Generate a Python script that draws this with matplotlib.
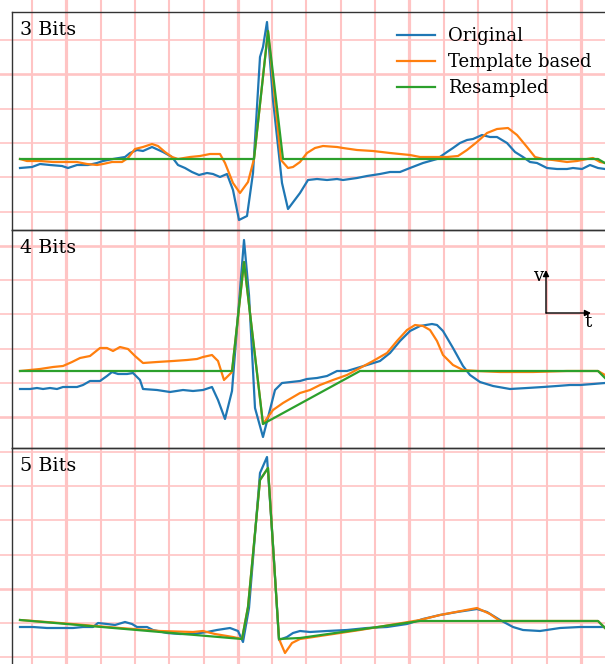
import numpy as np
import matplotlib.pyplot as plt

plt.rcParams['font.family'] = 'serif'

# time in ms, amplitude in mV
# --- 3 Bits ---
orig3_t = [0, 12, 20, 30, 42, 48, 57, 68, 77, 83, 93, 105, 110, 117, 123, 132, 143, 152, 158, 165,
           172, 179, 187, 193, 200, 207, 213, 219, 227, 233, 240, 243, 247, 253, 262, 268, 280, 288,
           297, 307, 317, 323, 337, 347, 360, 370, 380, 390, 403, 417, 427, 433, 440, 447, 453, 462,
           470, 477, 487, 495, 503, 510, 517, 527, 537, 547, 553, 562, 570, 578, 585]
orig3_v = [-0.09, -0.08, -0.05, -0.06, -0.07, -0.09, -0.06, -0.06, -0.04, -0.02, 0.00, 0.02, 0.06,
           0.09, 0.08, 0.12, 0.07, 0.02, -0.06, -0.09, -0.13, -0.16, -0.14, -0.15, -0.18, -0.15,
           -0.31, -0.61, -0.57, -0.14, 1.02, 1.12, 1.37, 0.59, -0.24, -0.50, -0.34, -0.21, -0.20,
           -0.21, -0.20, -0.21, -0.19, -0.17, -0.15, -0.13, -0.13, -0.09, -0.04, 0.00, 0.07, 0.11,
           0.16, 0.19, 0.20, 0.24, 0.22, 0.22, 0.16, 0.07, 0.02, -0.03, -0.04, -0.09, -0.10, -0.10,
           -0.09, -0.10, -0.06, -0.09, -0.10]
tmpl3_t = [0, 7, 20, 33, 47, 57, 67, 77, 83, 92, 102, 108, 115, 123, 132, 138, 145, 152, 158, 170,
           180, 190, 200, 205, 213, 220, 228, 234, 248, 261, 268, 273, 280, 287, 295, 303, 317, 323,
           337, 353, 370, 390, 400, 413, 427, 438, 447, 457, 467, 477, 488, 497, 507, 515, 523, 533,
           547, 557, 567, 573, 580, 585]
tmpl3_v = [0.00, -0.02, -0.02, -0.03, -0.03, -0.03, -0.05, -0.06, -0.05, -0.03, -0.03, 0.01, 0.10,
           0.12, 0.15, 0.13, 0.07, 0.02, 0.00, 0.02, 0.03, 0.05, 0.05, -0.04, -0.24, -0.34, -0.23,
           0.00, 1.28, -0.01, -0.09, -0.08, -0.03, 0.06, 0.11, 0.13, 0.12, 0.11, 0.09, 0.08, 0.06,
           0.04, 0.02, 0.02, 0.02, 0.03, 0.09, 0.17, 0.26, 0.30, 0.31, 0.24, 0.12, 0.02, 0.00, -0.01,
           -0.03, -0.02, 0.00, 0.01, -0.03, -0.04]
res3_t = [0, 234, 248, 263, 578, 590]
res3_v = [0.00, 0.00, 1.28, 0.00, 0.00, -0.07]

# --- 4 Bits ---
orig4_t = [0, 10, 17, 23, 30, 37, 43, 57, 63, 70, 80, 87, 92, 98, 107, 113, 120, 123, 137, 150,
           163, 173, 183, 192, 198, 205, 212, 217, 224, 229, 235, 243, 255, 262, 280, 287, 297, 307,
           317, 327, 337, 347, 360, 370, 380, 390, 400, 412, 417, 423, 433, 443, 450, 460, 473, 490,
           507, 523, 537, 550, 560, 573, 585]
orig4_v = [-0.18, -0.18, -0.17, -0.18, -0.17, -0.18, -0.16, -0.16, -0.14, -0.10, -0.10, -0.05,
           -0.01, -0.03, -0.03, -0.02, -0.09, -0.18, -0.19, -0.21, -0.19, -0.20, -0.19, -0.16,
           -0.29, -0.48, -0.20, 0.43, 1.31, 0.76, -0.37, -0.66, -0.19, -0.12, -0.10, -0.08, -0.07,
           -0.05, 0.00, 0.00, 0.03, 0.06, 0.10, 0.18, 0.30, 0.40, 0.45, 0.47, 0.46, 0.40, 0.23, 0.05,
           -0.04, -0.11, -0.15, -0.18, -0.17, -0.16, -0.15, -0.14, -0.14, -0.13, -0.12]
tmpl4_t = [0, 10, 20, 33, 43, 52, 60, 70, 80, 87, 93, 100, 108, 115, 123, 137, 153, 167, 177, 183,
           192, 198, 204, 212, 224, 243, 253, 263, 280, 290, 300, 313, 327, 340, 353, 367, 377, 387,
           395, 403, 410, 417, 423, 433, 443, 457, 480, 513, 547, 578, 585]
tmpl4_v = [0.00, 0.01, 0.02, 0.04, 0.05, 0.09, 0.13, 0.15, 0.23, 0.23, 0.20, 0.24, 0.22, 0.15,
           0.08, 0.09, 0.10, 0.11, 0.12, 0.14, 0.16, 0.10, -0.09, -0.01, 1.09, -0.53, -0.39, -0.32,
           -0.22, -0.19, -0.14, -0.09, -0.04, 0.03, 0.10, 0.18, 0.30, 0.41, 0.46, 0.45, 0.41, 0.30,
           0.16, 0.06, 0.01, 0.00, -0.01, -0.01, 0.00, 0.00, -0.04]
res4_t = [0, 212, 224, 243, 340, 578, 585]
res4_v = [0.00, 0.00, 1.09, -0.53, 0.00, 0.00, -0.07]

# --- 5 Bits ---
orig5_t = [0, 13, 27, 40, 53, 63, 73, 78, 87, 95, 105, 112, 117, 127, 133, 147, 160, 173, 187,
           197, 210, 218, 223, 229, 240, 247, 253, 259, 267, 273, 280, 290, 307, 327, 347, 367, 387,
           403, 420, 437, 457, 467, 480, 493, 503, 520, 540, 560, 580, 585]
orig5_v = [-0.06, -0.06, -0.07, -0.07, -0.07, -0.06, -0.06, -0.02, -0.03, -0.04, -0.01, -0.03,
           -0.06, -0.06, -0.09, -0.12, -0.13, -0.13, -0.11, -0.09, -0.07, -0.10, -0.21, 0.13, 1.48,
           1.64, 0.76, -0.19, -0.16, -0.12, -0.10, -0.11, -0.10, -0.09, -0.07, -0.06, -0.03, 0.02,
           0.06, 0.09, 0.12, 0.09, 0.01, -0.06, -0.09, -0.10, -0.07, -0.06, -0.06, -0.06]
tmpl5_t = [0, 40, 100, 140, 173, 183, 195, 213, 222, 228, 240, 248, 259, 265, 272, 280, 340, 400,
           420, 457, 470, 480, 578, 585]
tmpl5_v = [0.01, -0.02, -0.07, -0.10, -0.11, -0.10, -0.13, -0.16, -0.18, 0.14, 1.41, 1.53, -0.18,
           -0.32, -0.22, -0.18, -0.09, 0.01, 0.06, 0.13, 0.07, 0.00, 0.00, -0.07]
res5_t = [0, 222, 228, 240, 248, 259, 280, 400, 578, 585]
res5_v = [0.01, -0.18, 0.14, 1.41, 1.53, -0.18, -0.17, 0.00, 0.00, -0.07]

panel_labels = ['3 Bits', '4 Bits', '5 Bits']
series_labels = ['Original', 'Template based', 'Resampled']
panels = [
    (orig3_t, orig3_v, tmpl3_t, tmpl3_v, res3_t, res3_v, (-0.71, 1.47)),
    (orig4_t, orig4_v, tmpl4_t, tmpl4_v, res4_t, res4_v, (-0.77, 1.41)),
    (orig5_t, orig5_v, tmpl5_t, tmpl5_v, res5_t, res5_v, (-0.45, 1.73)),
]

W, H = 605, 664
fig = plt.figure(figsize=(W / 100, H / 100), dpi=100)

# ECG paper background
pink = '#ffc4c4'
bg = fig.add_axes([0, 0, 1, 1], zorder=0)
bg.set_xlim(0, W)
bg.set_ylim(H, 0)
bg.axis('off')
step = 34.3
for k in range(18):
    bg.axvline(32 + step * k, color=pink, lw=2.3 if k % 5 == 1 else 1.5)
for k in range(19):
    bg.axhline(40 + step * k, color=pink, lw=1.9 if k % 5 == 1 else 1.2)

left = 12 / W
width = 608 / W
ph = 218 / H
axes = []
for i, (ot, ov, tt, tv, rt, rv, ylim) in enumerate(panels):
    top = 12 + 218 * i
    ax = fig.add_axes([left, 1 - (top + 218) / H, width, ph], zorder=1)
    ax.patch.set_alpha(0)
    ax.plot(ot, ov, color='tab:blue', lw=1.6, label=series_labels[0])
    ax.plot(tt, tv, color='tab:orange', lw=1.6, label=series_labels[1])
    ax.plot(rt, rv, color='tab:green', lw=1.6, label=series_labels[2])
    ax.set_xlim(-8, 600)
    ax.set_ylim(*ylim)
    ax.set_xticks([])
    ax.set_yticks([])
    for s in ['left', 'top', 'bottom']:
        ax.spines[s].set_color('#333333')
        ax.spines[s].set_linewidth(1.0)
    ax.spines['right'].set_visible(False)
    ax.text(0.013, 1 - 23 / 218, panel_labels[i], transform=ax.transAxes,
            fontsize=13.8, va='baseline', ha='left')
    axes.append(ax)

axes[0].legend(loc='upper left', bbox_to_anchor=(397 / W, 1 - 27 / H),
               bbox_transform=fig.transFigure, frameon=False, fontsize=13,
               handlelength=2.1, handletextpad=0.7, labelspacing=0.45,
               borderpad=0, borderaxespad=0)

# v / t axes sketch
ax2 = axes[1]
x0, y0 = (546 - 12) / 608, 1 - (313 - 230) / 218
ax2.annotate('', xy=(x0, 1 - (270 - 230) / 218), xytext=(x0, y0), xycoords='axes fraction',
             arrowprops=dict(arrowstyle='-|>', color='black', lw=1.0, mutation_scale=9,
                             shrinkA=0, shrinkB=0))
ax2.annotate('', xy=((591 - 12) / 608, y0), xytext=(x0, y0), xycoords='axes fraction',
             arrowprops=dict(arrowstyle='-|>', color='black', lw=1.0, mutation_scale=9,
                             shrinkA=0, shrinkB=0))
ax2.text((543 - 12) / 608, 1 - (276 - 230) / 218, 'v', transform=ax2.transAxes,
         fontsize=13, ha='right', va='center')
ax2.text((588 - 12) / 608, 1 - (322 - 230) / 218, 't', transform=ax2.transAxes,
         fontsize=13, ha='center', va='center')

fig.savefig('out.png', dpi=100, facecolor='white')
